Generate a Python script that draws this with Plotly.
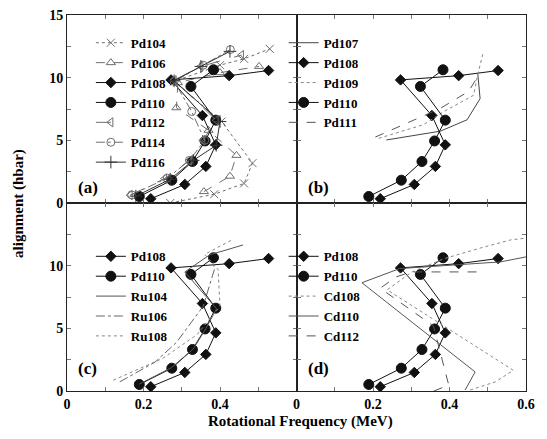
import plotly.graph_objects as go
from plotly.subplots import make_subplots

# ---------------- data ----------------
# shared Pd108 / Pd110
pd108_x = [0.219, 0.308, 0.363, 0.389, 0.354, 0.272, 0.424, 0.527]
pd108_y = [0.34, 1.48, 2.92, 4.64, 6.98, 9.82, 10.16, 10.57]
pd110_x = [0.189, 0.274, 0.328, 0.361, 0.389, 0.324, 0.383]
pd110_y = [0.52, 1.82, 3.31, 4.95, 6.61, 9.30, 10.63]

# panel (a)
pd104_x = [0.27, 0.385, 0.463, 0.485, 0.404, 0.28, 0.40, 0.463, 0.53]
pd104_y = [0.0, 0.70, 1.56, 3.18, 6.50, 9.70, 11.0, 11.5, 12.3]
pd106_x = [0.358, 0.426, 0.443, 0.37, 0.286, 0.29, 0.40, 0.502]
pd106_y = [0.91, 2.14, 3.80, 5.80, 7.60, 9.60, 10.40, 10.90]
pd112_x = [0.165, 0.255, 0.32, 0.355, 0.39, 0.28, 0.35, 0.456]
pd112_y = [0.62, 1.95, 3.40, 5.00, 6.60, 9.80, 10.90, 11.80]
pd114_x = [0.169, 0.262, 0.32, 0.36, 0.326, 0.28, 0.356, 0.427]
pd114_y = [0.65, 1.98, 3.40, 5.00, 7.30, 9.70, 11.00, 12.24]
pd116_x = [0.18, 0.27, 0.33, 0.39, 0.40, 0.28, 0.35, 0.426]
pd116_y = [0.55, 1.90, 3.40, 4.60, 6.50, 9.75, 10.90, 12.10]

# panel (b)
pd107_x = [0.235, 0.376, 0.446, 0.480, 0.474]
pd107_y = [5.03, 5.73, 6.64, 8.33, 10.29]
pd109_x = [0.215, 0.332, 0.385, 0.463, 0.474, 0.489]
pd109_y = [5.16, 6.25, 7.29, 8.60, 10.29, 12.10]
pd111_x = [0.206, 0.376, 0.450, 0.472]
pd111_y = [5.26, 7.55, 8.90, 10.00]

# panel (c)
ru104_x = [0.189, 0.273, 0.330, 0.363, 0.391, 0.308, 0.373, 0.460]
ru104_y = [0.55, 1.86, 3.35, 4.98, 6.57, 9.50, 10.86, 11.65]
ru106_x = [0.138, 0.230, 0.286, 0.356, 0.386, 0.380]
ru106_y = [0.73, 2.30, 3.87, 6.76, 9.77, 10.30]
ru108_x = [0.121, 0.250, 0.340, 0.400, 0.395, 0.360, 0.434]
ru108_y = [0.86, 2.60, 4.50, 6.76, 9.70, 10.90, 12.10]

# panel (d)
cd108_x = [0.454, 0.520, 0.567, 0.237, 0.302, 0.385, 0.480, 0.559, 0.600]
cd108_y = [0.08, 0.73, 1.65, 8.07, 9.50, 10.55, 11.40, 12.05, 12.20]
cd110_x = [0.441, 0.467, 0.171, 0.270, 0.533, 0.600]
cd110_y = [0.08, 1.52, 8.64, 9.77, 10.30, 10.70]
cd112_x = [0.359, 0.398, 0.358, 0.219, 0.260, 0.300, 0.472]
cd112_y = [0.0, 0.47, 5.18, 8.20, 9.10, 9.50, 9.50]

x_tickvals = [0, 0.1, 0.2, 0.3, 0.4, 0.5, 0.6]
x_ticktext_left = ["0", "", "0.2", "", "0.4", "", ""]
x_ticktext_right = ["0", "", "0.2", "", "0.4", "", "0.6"]
y_tickvals = [0, 2.5, 5, 7.5, 10, 12.5, 15]
y_ticktext_top = ["0", "", "5", "", "10", "", "15"]
y_ticktext_bottom = ["0", "", "5", "", "10", "", ""]

FONT = "Liberation Serif"
GRAY = "#6e6e6e"
BLACK = "#111111"

fig = make_subplots(rows=2, cols=2, horizontal_spacing=0, vertical_spacing=0)


def add(x, y, name, row, col, legend, mode="lines", color=GRAY, dash="solid",
        width=1, symbol=None, msize=7, mcolor=None):
    marker = dict(symbol=symbol, size=msize, color=mcolor or color,
                  line=dict(width=1, color=mcolor or color)) if symbol else None
    fig.add_trace(go.Scatter(x=x, y=y, name=name, mode=mode, legend=legend,
                             line=dict(color=color, dash=dash, width=width),
                             marker=marker), row=row, col=col)


def add_pd108(row, col, legend):
    add(pd108_x, pd108_y, "Pd108", row, col, legend, mode="lines+markers",
        color=BLACK, symbol="diamond", msize=8)


def add_pd110(row, col, legend):
    add(pd110_x, pd110_y, "Pd110", row, col, legend, mode="lines+markers",
        color=BLACK, symbol="circle", msize=10)


# (a)
add(pd104_x, pd104_y, "Pd104", 1, 1, "legend", mode="lines+markers", dash="dot",
    symbol="x-thin-open", msize=8)
add(pd106_x, pd106_y, "Pd106", 1, 1, "legend", mode="lines+markers", dash="dash",
    symbol="triangle-up-open", msize=8)
add_pd108(1, 1, "legend")
add_pd110(1, 1, "legend")
add(pd112_x, pd112_y, "Pd112", 1, 1, "legend", mode="lines+markers", dash="longdash",
    symbol="triangle-left-open", msize=8)
add(pd114_x, pd114_y, "Pd114", 1, 1, "legend", mode="lines+markers", dash="dashdot",
    symbol="circle-open", msize=8)
add(pd116_x, pd116_y, "Pd116", 1, 1, "legend", mode="lines+markers", color="#333333",
    symbol="cross-thin-open", msize=9)

# (b)
add(pd107_x, pd107_y, "Pd107", 1, 2, "legend2", color="#444444")
add_pd108(1, 2, "legend2")
add(pd109_x, pd109_y, "Pd109", 1, 2, "legend2", dash="dot", color="#888888")
add_pd110(1, 2, "legend2")
add(pd111_x, pd111_y, "Pd111", 1, 2, "legend2", dash="dash", color="#555555")

# (c)
add_pd108(2, 1, "legend3")
add_pd110(2, 1, "legend3")
add(ru104_x, ru104_y, "Ru104", 2, 1, "legend3", color="#555555")
add(ru106_x, ru106_y, "Ru106", 2, 1, "legend3", dash="dashdot", color="#666666")
add(ru108_x, ru108_y, "Ru108", 2, 1, "legend3", dash="dot", color="#888888")

# (d)
add_pd108(2, 2, "legend4")
add_pd110(2, 2, "legend4")
add(cd108_x, cd108_y, "Cd108", 2, 2, "legend4", dash="dot", color="#888888")
add(cd110_x, cd110_y, "Cd110", 2, 2, "legend4", color="#555555")
add(cd112_x, cd112_y, "Cd112", 2, 2, "legend4", dash="dash", color="#555555")

tickfont = dict(family=FONT, size=14, color="black", weight="bold")
axis_common = dict(range=[0, 0.6], showline=True, mirror="ticks", linecolor="#222222",
                   linewidth=1, ticks="inside", ticklen=4, tickcolor="#777777",
                   showgrid=False, zeroline=False, tickfont=tickfont,
                   tickvals=x_tickvals)
yaxis_common = dict(range=[0, 15], showline=True, mirror="ticks", linecolor="#222222",
                    linewidth=1, ticks="inside", ticklen=4, tickcolor="#777777",
                    showgrid=False, zeroline=False, tickfont=tickfont,
                    tickvals=y_tickvals)

fig.update_layout(
    xaxis=dict(axis_common, showticklabels=False),
    xaxis2=dict(axis_common, showticklabels=False),
    xaxis3=dict(axis_common, ticktext=x_ticktext_left),
    xaxis4=dict(axis_common, ticktext=x_ticktext_right),
    yaxis=dict(yaxis_common, ticktext=y_ticktext_top),
    yaxis2=dict(yaxis_common, showticklabels=False),
    yaxis3=dict(yaxis_common, ticktext=y_ticktext_bottom),
    yaxis4=dict(yaxis_common, showticklabels=False),
)

legfont = dict(family=FONT, size=13, color="black", weight="bold")
legbase = dict(font=legfont, bgcolor="rgba(0,0,0,0)", borderwidth=0,
               itemwidth=30, xanchor="left", yanchor="top", tracegroupgap=0)
fig.update_layout(
    width=547, height=439,
    margin=dict(l=67, r=21, t=8, b=48),
    paper_bgcolor="white", plot_bgcolor="white",
    showlegend=True,
    legend=dict(legbase, x=0.052, y=0.966),
    legend2=dict(legbase, x=0.472, y=0.966),
    legend3=dict(legbase, x=0.052, y=0.398),
    legend4=dict(legbase, x=0.472, y=0.398),
    font=dict(family=FONT),
)

labfont = dict(family=FONT, size=17, color="black", weight="bold")
for lab, xr, yr, yy in [("(a)", "x domain", "y domain", 0.085),
                        ("(b)", "x2 domain", "y2 domain", 0.085),
                        ("(c)", "x3 domain", "y3 domain", 0.12),
                        ("(d)", "x4 domain", "y4 domain", 0.12)]:
    fig.add_annotation(text=lab, xref=xr, yref=yr, x=0.04, y=yy, xanchor="left",
                       yanchor="middle", showarrow=False, font=labfont)

fig.add_annotation(text="alignment (hbar)", xref="paper", yref="paper", x=-0.107, y=0.5,
                   textangle=-90, showarrow=False, xanchor="center", yanchor="middle",
                   font=dict(family=FONT, size=15, color="black", weight="bold"))
fig.add_annotation(text="Rotational Frequency (MeV)", xref="paper", yref="paper",
                   x=0.508, y=-0.082, showarrow=False, xanchor="center", yanchor="middle",
                   font=dict(family=FONT, size=15, color="black", weight="bold"))

fig.write_html("out.html", config={"displayModeBar": False},
               post_script="document.body.style.margin='0px';")
